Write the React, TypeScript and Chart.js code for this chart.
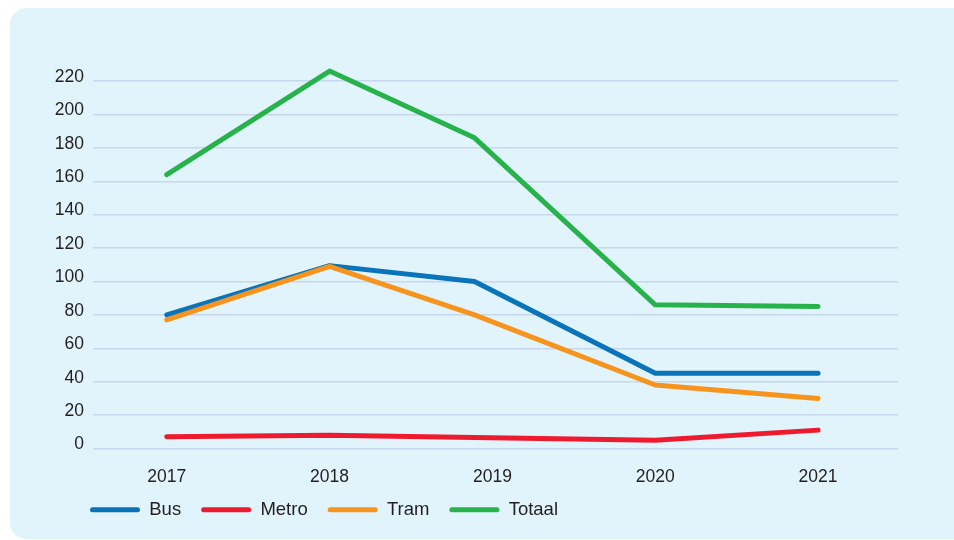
import React, { useEffect, useRef } from "react";
import { Chart, registerables } from "chart.js";

Chart.register(...registerables);

// ---- data ----
const seriesNames = ["Bus", "Metro", "Tram", "Totaal"];
const yearLabels = [2017, 2018, 2019, 2020, 2021];
// x position of each point as it appears in the picture (the 2019 vertex sits a bit left of its label)
const pointYears = [2017, 2018, 2018.89, 2020, 2021];
const busValues = [80, 109.5, 100, 45, 45];
const metroValues = [7, 8, 6.6, 5, 11];
const tramValues = [77, 109, 80, 38, 30];
const totaalValues = [164, 226, 186, 86, 85];
const yTickStep = 20;
const yTickMax = 220;

const seriesColors = ["#0a74bb", "#ee1b2f", "#f7941d", "#27b24b"];
const FONT = "'Liberation Sans', Arial, sans-serif";
const TEXT = "#231f20";

// moves the legend box to its place in the picture
const legendPlace = {
  id: "legendPlace",
  afterLayout(chart: any) {
    const l = chart.legend;
    if (!l) return;
    const dx = 50;
    const dy = 13;
    l.left += dx;
    l.right += dx;
    l.top -= dy;
    l.bottom -= dy;
  },
};

export default function App() {
  const ref = useRef<HTMLCanvasElement | null>(null);

  useEffect(() => {
    if (!ref.current) return;
    const allValues = [busValues, metroValues, tramValues, totaalValues];
    const chart = new Chart(ref.current, {
      type: "line",
      data: {
        datasets: allValues.map((vals, i) => ({
          label: seriesNames[i],
          data: vals.map((v, j) => ({ x: pointYears[j], y: v })),
          borderColor: seriesColors[i],
          backgroundColor: seriesColors[i],
          borderWidth: 5,
          borderCapStyle: "round" as const,
          borderJoinStyle: "round" as const,
          pointRadius: 0,
          pointHoverRadius: 0,
          tension: 0,
          fill: false,
          order: allValues.length - i,
        })),
      },
      plugins: [legendPlace],
      options: {
        animation: false,
        responsive: false,
        layout: { padding: { left: 10, right: 56, top: 48, bottom: -3 } },
        plugins: {
          tooltip: { enabled: false },
          legend: {
            position: "bottom",
            align: "start",
            labels: {
              boxWidth: 50,
              boxHeight: 5,
              useBorderRadius: true,
              borderRadius: 2.5,
              padding: 20,
              color: TEXT,
              font: { family: FONT, size: 18.5 },
              sort: (a: any, b: any) => a.datasetIndex - b.datasetIndex,
              generateLabels: (c: any) =>
                Chart.defaults.plugins.legend.labels
                  .generateLabels(c)
                  .map((l: any) => ({ ...l, lineWidth: 0, fillStyle: seriesColors[l.datasetIndex] })),
            },
          },
        },
        scales: {
          x: {
            type: "linear",
            min: 2016.547,
            max: 2021.491,
            grid: { display: false, drawTicks: false },
            border: { display: false },
            afterFit: (s: any) => {
              s.height = 45;
            },
            afterBuildTicks: (s: any) => {
              s.ticks = yearLabels.map((v) => ({ value: v }));
            },
            ticks: {
              padding: 18,
              color: TEXT,
              font: { family: FONT, size: 17.5 },
              callback: (v: any) => String(v),
            },
          },
          y: {
            min: 0,
            max: 235,
            grid: { color: "#c7d8ee", lineWidth: 1.5, drawTicks: false },
            border: { display: false },
            afterFit: (s: any) => {
              s.width = 73;
            },
            afterBuildTicks: (s: any) => {
              const t: { value: number }[] = [];
              for (let v = 0; v <= yTickMax; v += yTickStep) t.push({ value: v });
              s.ticks = t;
            },
            ticks: {
              padding: 9,
              labelOffset: -4,
              color: TEXT,
              font: { family: FONT, size: 17.5 },
            },
          },
        },
      },
    });
    return () => chart.destroy();
  }, []);

  return (
    <div
      style={{
        position: "absolute",
        left: 10,
        top: 8,
        width: 944,
        height: 531,
        background: "#e1f3fb",
        borderRadius: "16px 0 0 16px",
        overflow: "hidden",
      }}
    >
      <canvas ref={ref} width={944} height={531} style={{ display: "block", width: 944, height: 531 }} />
    </div>
  );
}
